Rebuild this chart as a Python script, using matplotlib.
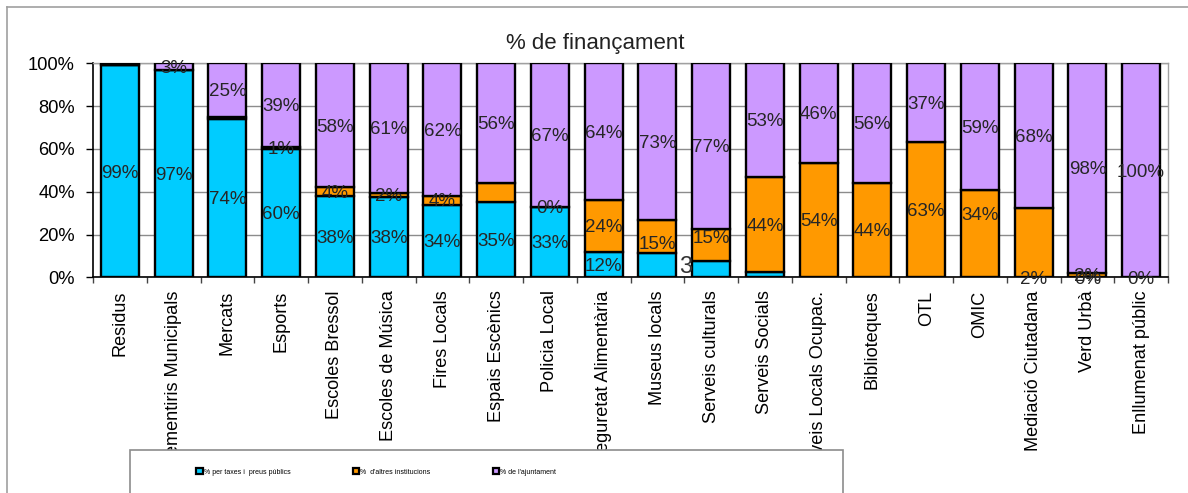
import matplotlib
matplotlib.use('Agg')
import matplotlib.pyplot as plt
import numpy as np
from matplotlib.patches import Rectangle, Patch
from matplotlib.lines import Line2D

plt.rcParams['font.family'] = ['Liberation Sans', 'DejaVu Sans']

# services and the share (%) of funding from each source
categories = ['Residus', 'Cementiris Municipals', 'Mercats', 'Esports', 'Escoles Bressol',
              'Escoles de Música', 'Fires Locals', 'Espais Escènics', 'Policia Local',
              'Seguretat Alimentària', 'Museus locals', 'Serveis culturals', 'Serveis Socials',
              'Serveis Locals Ocupac.', 'Biblioteques', 'OTL', 'OMIC', 'Mediació Ciutadana',
              'Verd Urbà', 'Enllumenat públic']
taxes = [99, 97, 74, 60, 38, 37.6, 34, 35, 33, 12, 11.3, 7.6, 2.6, 0, 0, 0, 0, 0, 0, 0]
altres = [0, 0, 1, 1, 4, 1.8, 4, 9, 0, 24, 15.3, 15.2, 44.2, 53.6, 44.2, 63.2, 40.6, 32.2, 2, 0]
ajuntament = [1, 3, 25, 39, 58, 60.6, 62, 56, 67, 64, 73.4, 77.2, 53.2, 46.4, 55.8, 36.8, 59.4, 67.8, 98, 100]

# data labels as printed on each segment (None = no label)
taxes_lbl = ['99%', '97%', '74%', '60%', '38%', '38%', '34%', '35%', '33%', '12%', None, None,
             None, None, None, None, None, '2%', '0%', '0%']
altres_lbl = [None, None, None, '1%', '4%', '2%', '4%', None, '0%', '24%', '15%', '15%',
              '44%', '54%', '44%', '63%', '34%', None, '2%', None]
ajunt_lbl = [None, '3%', '25%', '39%', '58%', '61%', '62%', '56%', '67%', '64%', '73%', '77%',
             '53%', '46%', '56%', '37%', '59%', '68%', '98%', '100%']
# small vertical shifts of a few labels (percentage points)
altres_nudge = {10: -3, 11: 3.5, 16: 9.5}

series = [('% per taxes i  preus públics', taxes, taxes_lbl, '#00CCFF'),
          ('%  d\'altres institucions', altres, altres_lbl, '#FF9900'),
          ('% de l\'ajuntament', ajuntament, ajunt_lbl, '#CC99FF')]

W, H = 1188, 493
fig = plt.figure(figsize=(W / 100, H / 100), dpi=100)
ax = fig.add_axes([93 / W, 1 - 277.3 / H, (1168 - 93) / W, (277.3 - 63.3) / H])

x = np.arange(len(categories))
bottom = np.zeros(len(categories))
for name, vals, lbls, col in series:
    vals = np.array(vals, dtype=float)
    ax.bar(x, vals, 0.71, bottom=bottom, color=col, edgecolor='black', linewidth=1.7,
           zorder=3, label=name)
    for i, (v, t) in enumerate(zip(vals, lbls)):
        if t is None:
            continue
        yc = bottom[i] + v / 2 - 0.8
        if lbls is altres_lbl:
            yc += altres_nudge.get(i, 0)
        ax.text(i, yc, t, ha='center', va='center', fontsize=13.5, color='#262626', zorder=4)
    bottom += vals

# stray digit next to the Museus bar
ax.text(10.53, 5, '3', ha='center', va='center', fontsize=17, color='#333333', zorder=4)

ax.set_xlim(-0.5, len(categories) - 0.5)
ax.set_ylim(0, 100)
ax.set_yticks(np.arange(0, 101, 20))
ax.set_yticklabels([f'{v}%' for v in range(0, 101, 20)], fontsize=13.2)
ax.tick_params(axis='y', length=5, width=1, pad=8, colors='black')
ax.set_xticks(x)
ax.set_xticklabels(categories, rotation=90, fontsize=13.1, va='top')
ax.tick_params(axis='x', which='major', length=0, pad=9.5)
ax.set_xticks(np.arange(-0.5, len(categories)), minor=True)
ax.tick_params(axis='x', which='minor', length=4.5, width=1, color='#444444')
ax.yaxis.grid(True, color='#8c8c8c', linewidth=1, zorder=0)
ax.set_axisbelow(True)
for s in ['top', 'right']:
    ax.spines[s].set_color('#a0a0a0')
    ax.spines[s].set_linewidth(1)
for s in ['left', 'bottom']:
    ax.spines[s].set_color('black')
    ax.spines[s].set_linewidth(1.2)

fig.text(595 / W, 1 - 43 / H, '% de finançament', ha='center', va='center', fontsize=16,
         color='#222222')

# outer chart frame (top and left edges)
fig.add_artist(Line2D([7 / W, 1], [1 - 7 / H, 1 - 7 / H], transform=fig.transFigure,
                      color='#a0a0a0', linewidth=1.2))
fig.add_artist(Line2D([7 / W, 7 / W], [0, 1 - 7 / H], transform=fig.transFigure,
                      color='#a0a0a0', linewidth=1.2))

# legend box
fig.add_artist(Rectangle((130 / W, -0.05), (843 - 130) / W, 0.05 + 1 - 450 / H,
                         transform=fig.transFigure, facecolor='white', edgecolor='#8c8c8c',
                         linewidth=1.2, zorder=5))
handles = [Patch(facecolor=col, edgecolor='black', linewidth=1.6) for _, _, _, col in series]
fig.legend(handles, [s[0] for s in series], loc='center left',
           bbox_to_anchor=(193 / W, 1 - 472 / H), ncol=3, frameon=False, borderpad=0,
           handlelength=0.9, handleheight=0.9, handletextpad=0.15, columnspacing=9.0,
           prop={'family': ['Liberation Sans Narrow', 'Liberation Sans'], 'size': 5.0}
           ).set_zorder(6)

fig.savefig('out.png', dpi=100)
